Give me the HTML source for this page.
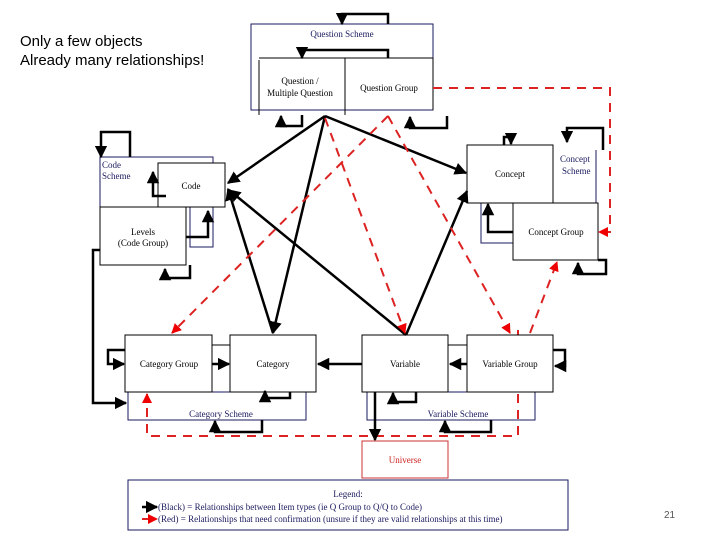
<!DOCTYPE html>
<html><head><meta charset="utf-8"><style>
body{margin:0;background:#fff;width:720px;height:540px;overflow:hidden;font-family:"Liberation Serif",serif}
.t{position:absolute;left:20px;top:32px;font-family:"Liberation Sans",sans-serif;font-size:15px;line-height:19px;color:#000}
</style></head><body>
<div class="t">Only a few objects<br>Already many relationships!</div>
<svg width="720" height="540" style="position:absolute;left:0;top:0" font-family="Liberation Serif, serif" font-size="9">
<defs>
<marker id="b" viewBox="0 0 10 10" refX="9" refY="5" markerWidth="5" markerHeight="5" orient="auto"><path d="M0,0L10,5L0,10z" fill="#000"/></marker>
<marker id="r" viewBox="0 0 10 10" refX="9" refY="5" markerWidth="5" markerHeight="5" orient="auto"><path d="M0,0L10,5L0,10z" fill="#e00"/></marker>
</defs>
<path d="M518,330V436H147V394" fill="none" stroke="#d22" stroke-width="2" stroke-dasharray="9,7" marker-end="url(#r)"/>
<g fill="#fff" stroke="#1a1a5e" stroke-width="1">
<rect x="251" y="24" width="182" height="86"/>
<rect x="100" y="157" width="113" height="50"/>
<rect x="128" y="392" width="178" height="28" fill="none"/>
<rect x="367" y="392" width="168" height="28" fill="none"/>
<rect x="128" y="480" width="440" height="50"/>
<path d="M596,150V203M481,203V243H513" fill="none"/>
<path d="M190,207V247H213V207" fill="none"/>
</g>
<g fill="#fff" stroke="#000" stroke-width="1">
<path d="M259,60V115M345,58V115M433,58V110M259,58H433" stroke="#000" fill="none"/>
<rect x="158" y="163" width="67" height="44"/>
<rect x="100" y="207" width="86" height="58"/>
<rect x="467" y="145" width="86" height="58"/>
<rect x="513" y="203" width="85" height="57"/>
<rect x="125" y="335" width="87" height="57"/>
<rect x="230" y="335" width="86" height="57"/>
<rect x="362" y="335" width="86" height="57"/>
<rect x="467" y="335" width="86" height="57"/>
<rect x="362" y="441" width="86" height="37" stroke="#c33"/>
</g>
<path d="M212,345H230M448,345H467" stroke="#000"/>
<g fill="none" stroke="#000" stroke-width="2.5" marker-end="url(#b)">
<path d="M388,24V14H342V24"/>
<path d="M388,58V50H302V58"/>
<path d="M302,115V126H281V116"/>
<path d="M447,116V128H410V117"/>
<path d="M130,157V132H101V157"/>
<path d="M166,196H153V172"/>
<path d="M186,237H208V211"/>
<path d="M100,250H93V403H126"/>
<path d="M190,265V278H165V269"/>
<path d="M504,145V137H511V144"/>
<path d="M603,150V128H567V142"/>
<path d="M513,232H488V204"/>
<path d="M598,260H606V274H578V263"/>
<path d="M125,350H108V364H124"/>
<path d="M553,350H565V366H555"/>
<path d="M212,364H229"/>
<path d="M362,364H318"/>
<path d="M467,364H450"/>
<path d="M290,392V398H265V391"/>
<path d="M262,420V432H215V421"/>
<path d="M416,392V402H393V393"/>
<path d="M491,420V432H445V421"/>
<path d="M375,392V440"/>
<path d="M325,116L228,183"/>
<path d="M325,116L273,333"/>
<path d="M325,116L466,173"/>
<path d="M273,333L228,189"/>
<path d="M406,335L229,190"/>
<path d="M406,335L467,191"/>
<path d="M142,507H157"/>
</g>
<g fill="none" stroke="#d22" stroke-width="2" stroke-dasharray="9,7" marker-end="url(#r)">
<path d="M433,88H610V232H599"/>
<path d="M325,118L405,333"/>
<path d="M388,116L172,333"/>
<path d="M388,116L510,333"/>
<path d="M530,333L557,262"/>
<path d="M142,519H157"/>
</g>
<g text-anchor="middle" fill="#000">
<text x="342" y="37" fill="#1a1a5e">Question Scheme</text>
<text x="300" y="84">Question /</text>
<text x="300" y="96">Multiple Question</text>
<text x="389" y="91">Question Group</text>
<text x="191" y="189">Code</text>
<text x="143" y="235">Levels</text>
<text x="143" y="246">(Code Group)</text>
<text x="510" y="177">Concept</text>
<text x="556" y="235">Concept Group</text>
<text x="169" y="367">Category Group</text>
<text x="273" y="367">Category</text>
<text x="405" y="367">Variable</text>
<text x="510" y="367">Variable Group</text>
<text x="221" y="417" fill="#1a1a5e">Category Scheme</text>
<text x="458" y="417" fill="#1a1a5e">Variable Scheme</text>
<text x="405" y="463" fill="#c22">Universe</text>
<text x="348" y="497" fill="#1a1a5e">Legend:</text>
</g>
<g fill="#1a1a5e">
<text x="102" y="168">Code</text><text x="102" y="179">Scheme</text>
<text x="560" y="162">Concept</text><text x="562" y="174">Scheme</text>
<text x="158" y="510">(Black) = Relationships between Item types (ie Q Group to Q/Q to Code)</text>
<text x="158" y="522">(Red) = Relationships that need confirmation (unsure if they are valid relationships at this time)</text>
</g>
<text x="664" y="518" font-family="Liberation Sans, sans-serif" font-size="10" fill="#555">21</text>
</svg>
</body></html>
